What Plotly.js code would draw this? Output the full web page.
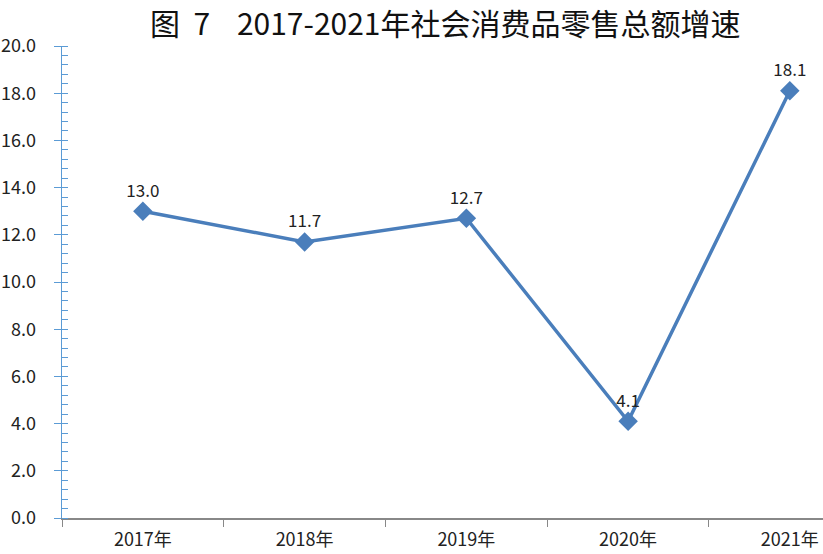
<!DOCTYPE html>
<html>
<head>
<meta charset="utf-8">
<script src="https://cdn.plot.ly/plotly-3.0.1.min.js"></script>
<style>
  html, body { margin: 0; padding: 0; background: #fff; }
  #chart { width: 823px; height: 554px; }
</style>
</head>
<body>
<div id="chart"></div>
<script>
const years = ['2017年', '2018年', '2019年', '2020年', '2021年'];
const growth = [13.0, 11.7, 12.7, 4.1, 18.1];
const growthLabels = ['13.0', '11.7', '12.7', '4.1', '18.1'];

const lineBlue = '#4a7ebb';
const cjk = '"Noto Sans CJK SC", "DejaVu Sans", sans-serif';

const trace = {
    x: years,
    y: growth,
    type: 'scatter',
    mode: 'lines+markers+text',
    text: growthLabels,
    textposition: 'top center',
    textfont: { size: 17, color: '#222', family: cjk },
    line: { color: lineBlue, width: 3.5 },
    marker: { symbol: 'diamond', size: 15, color: lineBlue },
    cliponaxis: false,
    hoverinfo: 'skip'
};

// second y axis only used for the inner half of the major ticks
const ghost = {
    x: [years[0]],
    y: [0],
    yaxis: 'y2',
    type: 'scatter',
    mode: 'markers',
    marker: { opacity: 0 },
    hoverinfo: 'skip',
    showlegend: false
};

const layout = {
    width: 823,
    height: 554,
    margin: { l: 62, r: 0, t: 46, b: 36 },
    paper_bgcolor: '#fff',
    plot_bgcolor: '#fff',
    showlegend: false,
    title: {
        text: '图  7    2017-2021年社会消费品零售总额增速',
        font: { size: 30, color: '#111', family: cjk, weight: 'normal' },
        x: 0.541,
        xanchor: 'center',
        y: 0.956,
        yanchor: 'middle'
    },
    xaxis: {
        type: 'category',
        range: [-0.5, 4.205],
        showgrid: false,
        zeroline: false,
        showline: true,
        linecolor: '#888',
        linewidth: 1.5,
        ticks: 'outside',
        tickson: 'boundaries',
        ticklen: 7,
        tickcolor: '#888',
        tickfont: { size: 18, color: '#222', family: cjk },
        ticklabelstandoff: 5
    },
    yaxis: {
        range: [0, 20],
        dtick: 2,
        tickformat: '.1f',
        showgrid: false,
        zeroline: false,
        showline: true,
        linecolor: '#5b9bd5',
        linewidth: 1.5,
        ticks: 'outside',
        ticklen: 7,
        tickcolor: '#5b9bd5',
        tickfont: { size: 18, color: '#222', family: cjk },
        ticklabelstandoff: 14,
        minor: { dtick: 0.4, ticks: 'inside', ticklen: 6, tickcolor: '#5b9bd5', showgrid: false }
    },
    yaxis2: {
        overlaying: 'y',
        side: 'left',
        range: [0, 20],
        dtick: 2,
        showgrid: false,
        zeroline: false,
        showline: false,
        showticklabels: false,
        ticks: 'inside',
        ticklen: 6,
        tickcolor: '#5b9bd5'
    }
};

Plotly.newPlot('chart', [trace, ghost], layout, { displayModeBar: false, staticPlot: true });
</script>
</body>
</html>
